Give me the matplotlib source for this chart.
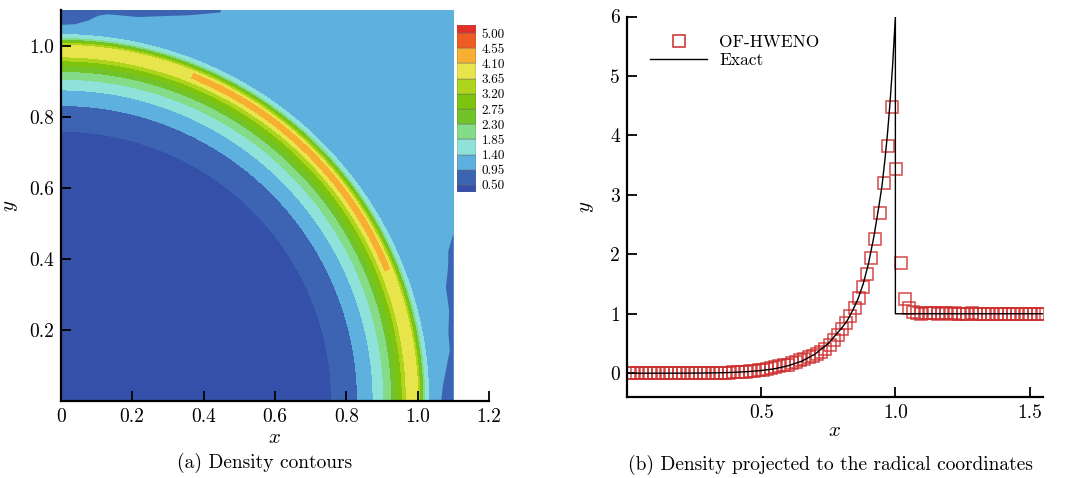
import numpy as np
import matplotlib.pyplot as plt
from matplotlib.lines import Line2D

plt.rcParams['font.family'] = 'serif'
plt.rcParams['font.serif'] = ['cmr10', 'DejaVu Serif']
plt.rcParams['mathtext.fontset'] = 'cm'
plt.rcParams['axes.formatter.use_mathtext'] = True

# density legend of the contour plot
levels = [0.50, 0.95, 1.40, 1.85, 2.30, 2.75, 3.20, 3.65, 4.10, 4.55, 5.00]
level_colors = ['#3450a8', '#3d64b2', '#5eb0de', '#8ee2da', '#84dc88', '#72c22a',
                '#7ec40e', '#aed41c', '#e8e44c', '#f8ae30', '#ee5c22', '#e0302a']

# OF-HWENO density along the diagonal, projected to r
r_num = [0.0078, 0.0233, 0.0389, 0.0545, 0.0700, 0.0856, 0.1011, 0.1167, 0.1323, 0.1478,
         0.1634, 0.1789, 0.1945, 0.2101, 0.2256, 0.2412, 0.2567, 0.2723, 0.2879, 0.3034,
         0.3190, 0.3345, 0.3501, 0.3657, 0.3812, 0.3968, 0.4123, 0.4279, 0.4435, 0.4590,
         0.4746, 0.4902, 0.5057, 0.5213, 0.5368, 0.5524, 0.5680, 0.5835, 0.5991, 0.6146,
         0.6302, 0.6458, 0.6613, 0.6769, 0.6924, 0.7080, 0.7236, 0.7391, 0.7547, 0.7702,
         0.7858, 0.8014, 0.8169, 0.8325, 0.8480, 0.8636, 0.8792, 0.8947, 0.9103, 0.9258,
         0.9414, 0.9570, 0.9725, 0.9881, 1.0036, 1.0192, 1.0347, 1.0503, 1.0659, 1.0814,
         1.0970, 1.1125, 1.1281, 1.1437, 1.1592, 1.1748, 1.1903, 1.2059, 1.2215, 1.2370,
         1.2526, 1.2681, 1.2837, 1.2993, 1.3148, 1.3304, 1.3459, 1.3615, 1.3771, 1.3926,
         1.4082, 1.4237, 1.4393, 1.4549, 1.4704, 1.4860, 1.5015, 1.5171, 1.5327, 1.5482]
rho_num = [0.001, 0.001, 0.001, 0.001, 0.001, 0.001, 0.001, 0.001, 0.001, 0.001,
           0.001, 0.001, 0.001, 0.001, 0.001, 0.001, 0.001, 0.002, 0.002, 0.003,
           0.004, 0.005, 0.007, 0.009, 0.011, 0.014, 0.018, 0.022, 0.027, 0.033,
           0.040, 0.048, 0.058, 0.070, 0.085, 0.100, 0.115, 0.130, 0.145, 0.165,
           0.19, 0.22, 0.245, 0.27, 0.295, 0.32, 0.36, 0.41, 0.48, 0.56,
           0.65, 0.74, 0.84, 0.96, 1.09, 1.26, 1.45, 1.67, 1.94, 2.26,
           2.70, 3.20, 3.83, 4.47, 3.44, 1.86, 1.25, 1.10, 1.03, 1.01,
           1.00, 1.01, 1.02, 1.01, 1.00, 1.01, 1.02, 1.00, 1.01, 1.00,
           1.00, 1.00, 1.01, 1.00, 1.00, 1.00, 1.00, 1.00, 1.00, 1.00,
           1.00, 1.00, 1.00, 1.00, 1.00, 1.00, 1.00, 1.00, 1.00, 1.00]

# exact solution
exact_r = [0.0, 0.2, 0.3, 0.35, 0.4, 0.45, 0.5, 0.55, 0.6, 0.65, 0.7, 0.75, 0.8,
           0.82, 0.84, 0.86, 0.88, 0.9, 0.92, 0.94, 0.95, 0.96, 0.97, 0.98, 0.99,
           1.0, 1.0, 1.55]
exact_rho = [0.0, 0.001, 0.004, 0.008, 0.015, 0.027, 0.045, 0.075, 0.125, 0.20, 0.32,
             0.50, 0.76, 0.88, 1.05, 1.24, 1.50, 1.85, 2.30, 2.85, 3.15, 3.55, 4.0,
             4.55, 5.2, 6.0, 1.0, 1.0]

# peak density of the 2D field vs polar angle (deg)
cap_angle = [0, 20, 26, 32, 45, 58, 64, 70, 90]
cap_rho = [4.05, 4.05, 4.2, 4.3, 4.4, 4.3, 4.2, 4.05, 4.05]

# low-density strips along the outer boundaries
right_strip_x = [1.1, 1.066, 1.07, 1.081, 1.09, 1.086, 1.088, 1.079, 1.085, 1.086, 1.094, 1.1]
right_strip_y = [0.0, 0.0, 0.04, 0.096, 0.143, 0.19, 0.255, 0.32, 0.376, 0.423, 0.451, 0.47]
top_strip_x = [0.0, 0.0, 0.04, 0.077, 0.105, 0.133, 0.217, 0.264, 0.357, 0.446, 0.45]
top_strip_y = [1.1, 1.058, 1.06, 1.07, 1.084, 1.088, 1.08, 1.082, 1.085, 1.093, 1.1]

W, H = 1068, 478
fig = plt.figure(figsize=(W / 100, H / 100), dpi=100)


def style(ax):
    for s in ['top', 'right']:
        ax.spines[s].set_visible(False)
    for s in ['left', 'bottom']:
        ax.spines[s].set_linewidth(1.6)
    ax.tick_params(direction='in', length=7, width=1.3, labelsize=14, pad=5)


# (a) density contours
ax1 = fig.add_axes([60.7 / W, 1 - 401 / H, 428.4 / W, 391 / H])
g = np.linspace(0, 1.1, 441)
X, Y = np.meshgrid(g, g)
R = np.hypot(X, Y)
TH = np.degrees(np.arctan2(Y, X))
Z = np.minimum(np.interp(R, r_num, rho_num), np.interp(TH, cap_angle, cap_rho))
ax1.contourf(X, Y, Z, levels=[-1] + levels + [10], colors=level_colors)
ax1.fill(right_strip_x, right_strip_y, color=level_colors[1], lw=0)
ax1.fill(top_strip_x, top_strip_y, color=level_colors[1], lw=0)
ax1.set_xlim(0, 1.2)
ax1.set_ylim(0, 1.1)
style(ax1)
ax1.set_xticks([0, 0.2, 0.4, 0.6, 0.8, 1.0, 1.2])
ax1.set_xticklabels(['0', '0.2', '0.4', '0.6', '0.8', '1.0', '1.2'])
ax1.set_yticks([0.2, 0.4, 0.6, 0.8, 1.0])
ax1.set_yticklabels(['0.2', '0.4', '0.6', '0.8', '1.0'])
ax1.set_xlabel('$x$', fontsize=15, labelpad=2)
ax1.set_ylabel('$y$', fontsize=15, labelpad=6)

# legend of the contour levels
cax = fig.add_axes([457 / W, 1 - 192 / H, 19 / W, 167 / H])
bottoms = [0.0] + [k - 0.53 for k in range(1, 11)] + [10.47]
heights = [0.47] + [1.0] * 10 + [0.53]
cax.bar([0] * 12, heights, bottom=bottoms, width=1, color=level_colors,
        edgecolor='#666666', linewidth=0.3, align='center')
cax.set_xlim(-0.5, 0.5)
cax.set_ylim(0, 11)
for s in cax.spines.values():
    s.set_visible(False)
cax.set_xticks([])
cax.yaxis.tick_right()
cax.set_yticks([j + 0.47 for j in range(11)])
cax.set_yticklabels(['%.2f' % v for v in levels])
cax.tick_params(axis='y', length=0, labelsize=9.5, pad=4)

# (b) density along the radius
ax2 = fig.add_axes([627 / W, 1 - 397 / H, 416 / W, 380.5 / H])
ax2.plot(r_num, rho_num, 's', ms=8, mfc='none', mec='#cc2a2a', mew=1.1, alpha=0.85)
ax2.plot(exact_r, exact_rho, '-', color='black', lw=1.0, zorder=3)
ax2.set_xlim(0, 1.55)
ax2.set_ylim(-0.4, 6)
style(ax2)
ax2.set_xticks([0.5, 1.0, 1.5])
ax2.set_xticklabels(['0.5', '1.0', '1.5'])
ax2.set_yticks([0, 1, 2, 3, 4, 5, 6])
ax2.set_yticklabels(['0', '1', '2', '3', '4', '5', '6'])
ax2.set_xlabel('$x$', fontsize=15, labelpad=0)
ax2.set_ylabel('$y$', fontsize=15, labelpad=10)
handles = [Line2D([], [], ls='none', marker='s', ms=8, mfc='none', mec='#cc2a2a', mew=1.1),
           Line2D([], [], color='black', lw=1.0)]
ax2.legend(handles, ['OF-HWENO', 'Exact'], loc='upper left', bbox_to_anchor=(0.055, 0.952),
           frameon=False, fontsize=12.5, handlelength=3.3, handletextpad=0.7,
           labelspacing=0.15, borderpad=0, borderaxespad=0, numpoints=1)

fig.text(265 / W, 1 - 463 / H, '(a) Density contours', ha='center', va='center', fontsize=14)
fig.text(830 / W, 1 - 465 / H, '(b) Density projected to the radical coordinates',
         ha='center', va='center', fontsize=14)

fig.savefig('out.png', dpi=100)
